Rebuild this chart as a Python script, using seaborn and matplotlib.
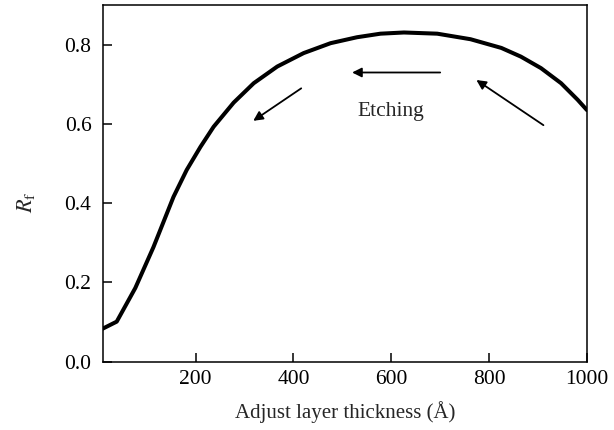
import matplotlib
matplotlib.use("Agg")
import matplotlib.pyplot as plt
import seaborn as sns
import pandas as pd

thickness = [10, 39, 77, 114, 155, 182, 210, 237, 278, 319, 367, 421, 476, 530, 578,
             626, 694, 762, 825, 865, 906, 947, 981, 1000]
rf = [0.083, 0.101, 0.186, 0.289, 0.416, 0.484, 0.542, 0.593, 0.654, 0.703, 0.745,
      0.779, 0.804, 0.819, 0.828, 0.831, 0.828, 0.814, 0.792, 0.770, 0.741, 0.703, 0.661, 0.635]
xticks = [200, 400, 600, 800, 1000]
yticks = [0.0, 0.2, 0.4, 0.6, 0.8]
annotation_text = "Etching"

sns.set_style("ticks")
plt.rcParams["font.family"] = ["Liberation Serif", "DejaVu Serif"]
plt.rcParams["mathtext.fontset"] = "stix"

fig = plt.figure(figsize=(6.14, 4.30), dpi=100)
ax = fig.add_axes([0.167, 0.159, 0.789, 0.829])

df = pd.DataFrame({"x": thickness, "y": rf})
sns.lineplot(data=df, x="x", y="y", ax=ax, color="black", linewidth=2.9, sort=False)

ax.set_xlim(10, 1000)
ax.set_ylim(0, 0.9)
ax.set_xticks(xticks)
ax.set_xticklabels([str(t) for t in xticks])
ax.set_yticks(yticks)
ax.set_yticklabels([f"{t:.1f}" for t in yticks])
ax.tick_params(direction="in", length=6.5, width=1.1, labelsize=15.5, colors="black")
ax.tick_params(axis="y", pad=8)
ax.tick_params(axis="x", pad=6)
for s in ax.spines.values():
    s.set_linewidth(1.1)
    s.set_color("black")

ax.set_xlabel("Adjust layer thickness (Å)", fontsize=15, labelpad=9)
ax.set_ylabel(r"$R_\mathrm{f}$", fontsize=16)
ax.yaxis.set_label_coords(-0.135, 0.447)

arrow_kw = dict(arrowstyle="-|>", color="black", lw=1.3, mutation_scale=14, shrinkA=0, shrinkB=0)
ax.annotate("", xy=(318, 0.608), xytext=(416, 0.690), arrowprops=arrow_kw)
ax.annotate("", xy=(520, 0.730), xytext=(700, 0.730), arrowprops=arrow_kw)
ax.annotate("", xy=(774, 0.711), xytext=(911, 0.597), arrowprops=arrow_kw)
ax.text(599, 0.631, annotation_text, fontsize=15.5, ha="center", va="center")

fig.savefig("out.png", dpi=100)
